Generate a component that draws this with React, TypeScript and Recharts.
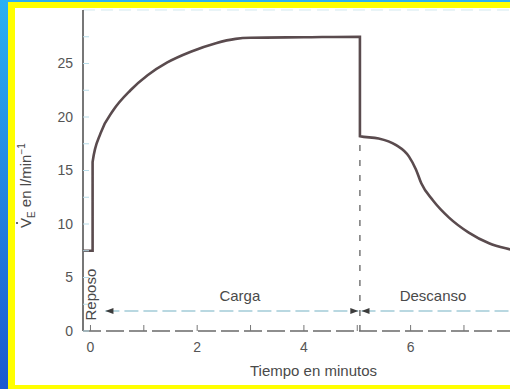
import React from "react";
import { LineChart, Line, XAxis, YAxis, ReferenceLine, ReferenceDot, Label } from "recharts";

// Curve: time (min) vs ventilation (l/min)
const times = [-0.14, 0.04, 0.04, 0.19, 0.43, 0.75, 1.07, 1.44, 1.88, 2.35, 2.72, 3.0, 4.0, 5.05, 5.05, 5.4, 5.72, 5.97, 6.1, 6.2, 6.42, 6.72, 7.09, 7.47, 7.88, 8.3];
const values = [7.5, 7.5, 15.8, 18.5, 20.65, 22.5, 23.9, 25.1, 26.1, 26.9, 27.3, 27.4, 27.45, 27.5, 18.2, 18.0, 17.4, 16.3, 15.1, 13.8, 12.2, 10.6, 9.2, 8.2, 7.6, 7.1];
const yTicks = [0, 2.5, 5, 7.5, 10, 12.5, 15, 17.5, 20, 22.5, 25, 27.5];
const xTicks = [0, 1, 2, 3, 4, 5, 6, 7];
const phaseNames = ["Reposo", "Carga", "Descanso"];
const phaseLabelX = [0, 2.8, 6.42];
const phaseStart = [0.28, 5.08];
const phaseEnd = [5.02, 8.5];
const changeTime = 5.05;
const changeValue = 18.2;

const data = times.map((t, i) => ({ t, v: values[i] }));

const TXT = "#4a4a4a";
const FONT = "'Liberation Sans', Arial, Helvetica, sans-serif";

const YLabel = () => (
  <g transform="translate(31,184) rotate(-90)">
    <text x={-44} y={0} textAnchor="start" fontFamily={FONT} fontSize={15} fill={TXT}>
      <tspan>V</tspan>
      <tspan fontSize={10} dy={4}>E</tspan>
      <tspan dy={-4}>{" en l/min"}</tspan>
      <tspan fontSize={10} dy={-6}>{"\u22121"}</tspan>
    </text>
    <circle cx={-39} cy={-14} r={1.1} fill={TXT} />
  </g>
);

const arrow = (dir: number) => (props: any) => {
  const { cx, cy } = props;
  const d = dir < 0
    ? `M${cx},${cy} L${cx + 8},${cy - 3} L${cx + 8},${cy + 3} Z`
    : `M${cx},${cy} L${cx - 8},${cy - 3} L${cx - 8},${cy + 3} Z`;
  return <path d={d} fill="#3c3c3c" />;
};

const textShape = (label: string, rotate: boolean) => (props: any) => {
  const { cx, cy } = props;
  return (
    <text
      x={cx}
      y={cy}
      textAnchor="middle"
      dominantBaseline="central"
      fontFamily={FONT}
      fontSize={15}
      fill={TXT}
      transform={rotate ? `rotate(-90,${cx},${cy})` : undefined}
    >
      {label}
    </text>
  );
};

export default function App() {
  return (
    <div
      style={{
        position: "absolute",
        left: 0,
        top: 0,
        width: 510,
        height: 389,
        overflow: "hidden",
        background: "linear-gradient(to bottom, #2bb0f2, #1a58cf)",
      }}
    >
      <div style={{ position: "absolute", left: 8, top: 2, width: 620, height: 400, background: "#ffff00" }} />
      <div style={{ position: "absolute", left: 15, top: 8, width: 620, height: 377, background: "#ffffff" }} />
      <div style={{ position: "absolute", left: 0, top: 0 }}>
        <LineChart width={560} height={389} data={data} margin={{ top: 10, right: 16, left: 0, bottom: 0 }}>
          <XAxis
            dataKey="t"
            type="number"
            domain={[-0.14, 8.5]}
            ticks={xTicks}
            allowDataOverflow
            height={58}
            tickSize={-6}
            tickMargin={17}
            tickFormatter={(v: number) => (v % 2 === 0 ? String(v) : "")}
            tick={{ fill: "#555", fontSize: 14, fontFamily: FONT }}
            tickLine={{ stroke: "#777" }}
            axisLine={{ stroke: "#6a6a6a", strokeWidth: 1.5, strokeDasharray: "18 5" }}
          >
            <Label
              value="Tiempo en minutos"
              position="insideBottom"
              offset={13}
              style={{ fill: TXT, fontSize: 15, fontFamily: FONT }}
            />
          </XAxis>
          <YAxis
            type="number"
            domain={[0, 30]}
            ticks={yTicks}
            allowDataOverflow
            width={83}
            tickSize={-6}
            tickMargin={16}
            tickFormatter={(v: number) => (v % 5 === 0 ? String(v) : "")}
            tick={{ fill: "#555", fontSize: 14, fontFamily: FONT }}
            tickLine={{ stroke: "#b9dde9" }}
            axisLine={{ stroke: "#555", strokeWidth: 1.6 }}
          >
            <Label content={YLabel} />
          </YAxis>
          <ReferenceLine y={30} stroke="#d3e9f0" strokeDasharray="12 6" />
          <ReferenceLine
            segment={[{ x: changeTime, y: 0 }, { x: changeTime, y: changeValue }]}
            stroke="#555"
            strokeWidth={1.2}
            strokeDasharray="6 9"
          />
          <ReferenceLine
            segment={[{ x: phaseStart[0], y: 1.87 }, { x: phaseEnd[0], y: 1.87 }]}
            stroke="#a3cbd8"
            strokeWidth={1.3}
            strokeDasharray="14 5"
          />
          <ReferenceLine
            segment={[{ x: phaseStart[1], y: 1.87 }, { x: phaseEnd[1], y: 1.87 }]}
            stroke="#a3cbd8"
            strokeWidth={1.3}
            strokeDasharray="14 5"
          />
          <ReferenceDot x={phaseStart[0]} y={1.87} r={0} shape={arrow(-1)} />
          <ReferenceDot x={phaseEnd[0]} y={1.87} r={0} shape={arrow(1)} />
          <ReferenceDot x={phaseStart[1]} y={1.87} r={0} shape={arrow(-1)} />
          <ReferenceDot x={phaseLabelX[0]} y={3.4} r={0} shape={textShape(phaseNames[0], true)} />
          <ReferenceDot x={phaseLabelX[1]} y={3.3} r={0} shape={textShape(phaseNames[1], false)} />
          <ReferenceDot x={phaseLabelX[2]} y={3.3} r={0} shape={textShape(phaseNames[2], false)} />
          <Line
            dataKey="v"
            type="monotone"
            stroke="#5a4b4e"
            strokeWidth={2.6}
            dot={false}
            isAnimationActive={false}
          />
        </LineChart>
      </div>
    </div>
  );
}
